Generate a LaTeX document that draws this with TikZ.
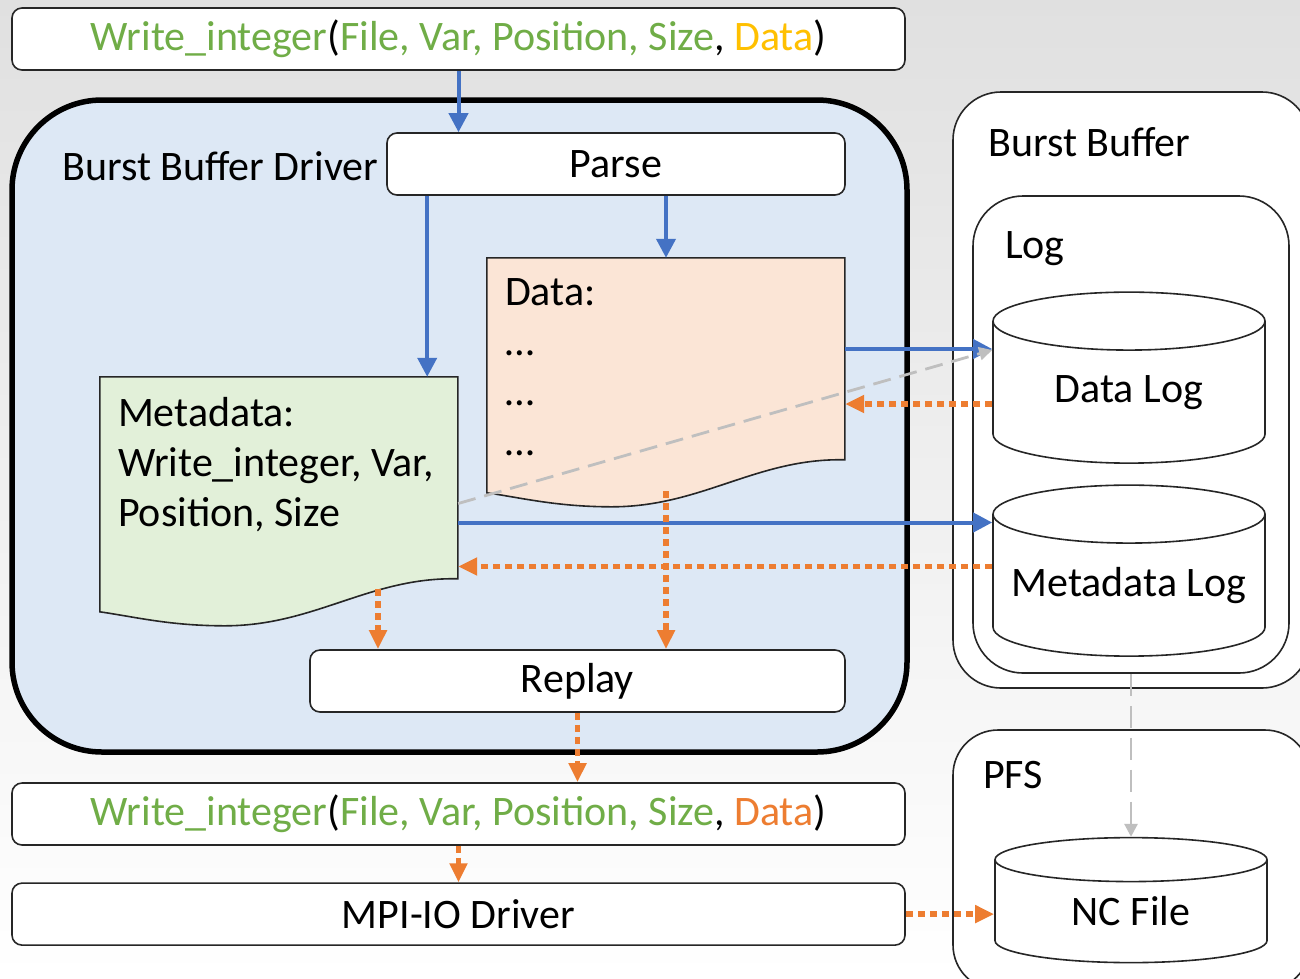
\documentclass[tikz,border=0pt]{standalone}
\usepackage{fontspec}
\setmainfont{Carlito}
\usepackage{xcolor}
\usepackage{tikz}
\usetikzlibrary{arrows.meta,positioning,shapes.geometric}

\definecolor{flowblue}{HTML}{4472C4}
\definecolor{floworange}{HTML}{ED7D31}
\definecolor{flowgreen}{HTML}{70AD47}
\definecolor{flowgold}{HTML}{FFC000}
\definecolor{flowgray}{HTML}{BFBFBF}
\definecolor{drvfill}{HTML}{DDE8F5}
\definecolor{datafill}{HTML}{FBE5D6}
\definecolor{metafill}{HTML}{E2F0D9}
\definecolor{edge}{HTML}{262626}

% wavy document outline drawn from the north west corner of a node
\newcommand{\wavedoc}[2]{%
  \filldraw[fill=#2, draw=edge, line width=1.6pt, shift={(#1.north west)}]
    (0,0) -- (358,0) -- (358,202)
    .. controls (270,200) and (215,249) .. (125,249)
    .. controls (70,249) and (35,240) .. (0,235) -- cycle;}

% the call text
\newcommand{\wcall}[1]{%
  \textcolor{flowgreen}{Write\_integer}(\textcolor{flowgreen}{File, Var, Position, Size}, \textcolor{#1}{Data})}

% fixed text box, so that every drum gets the same caps
\newcommand{\drumtext}[1]{\makebox[140pt]{#1}}

\begin{document}
\begin{tikzpicture}[
  x=1pt, y=-1pt,
  font=\fontsize{42pt}{50pt}\selectfont,
  bar/.style={rectangle, rounded corners=10pt, draw=edge, line width=1.6pt, fill=white, inner sep=0pt, minimum height=62pt},
  zone/.style={rectangle, draw=edge, line width=1.6pt, fill=white, inner sep=0pt},
  docarea/.style={rectangle, inner sep=0pt, minimum width=358pt, minimum height=202pt},
  drum/.style={cylinder, shape border rotate=90, aspect=0.414, draw=edge, line width=1.6pt, fill=white, inner sep=0pt, minimum width=272pt, minimum height=171pt},
  tag/.style={inner sep=0pt, anchor=base west},
  bluearr/.style={draw=flowblue, line width=4pt, -{Triangle[length=19pt,width=19pt]}},
  orarr/.style={draw=floworange, line width=5.5pt, dash pattern=on 7pt off 5pt, -{Triangle[length=19pt,width=17pt]}},
  grayarr/.style={draw=flowgray, line width=2.8pt, dash pattern=on 18pt off 9pt, -{Triangle[length=13pt,width=13pt]}}
]

\useasboundingbox (0,0) rectangle (1300,978);
\clip (0,0) rectangle (1300,978);
\shade[top color={rgb,255:red,224;green,224;blue,224}, bottom color=white] (0,0) rectangle (1300,978);

% Driver side
\node[bar, minimum width=893pt] (wtop) at (458.5,39) {\wcall{flowgold}};
\node[zone, rounded corners=90pt, line width=5.5pt, draw=black, fill=drvfill, minimum width=895pt, minimum height=652pt] (driver) at (459.5,426) {};
\node[tag] (drvlabel) at (62,180) {Burst Buffer Driver};
\node[bar, minimum width=458pt] (parse) at (616,164) {Parse};
\node[docarea] (data) at (666,359) {};
\node[docarea] (meta) at (279,478) {};
\wavedoc{data}{datafill}
\wavedoc{meta}{metafill}
\node[anchor=north west, align=left, inner sep=0pt] (datatext) at ([xshift=18pt,yshift=-21pt]data.north west) {Data:\\…\\…\\…};
\node[anchor=north west, align=left, inner sep=0pt] (metatext) at ([xshift=18pt,yshift=-20pt]meta.north west) {Metadata:\\Write\_integer, Var,\\Position, Size};
\node[bar, minimum width=535pt] (replay) at (577.5,681) {Replay};
\node[bar, minimum width=893pt] (wbot) at (458.5,814) {\wcall{floworange}};
\node[bar, minimum width=893pt, below=36.5pt of wbot] (mpi) {MPI-IO Driver};

% Storage side
\node[zone, rounded corners=48pt, minimum width=357pt, minimum height=596pt] (bb) at (1131.5,390) {};
\node[tag] (bblabel) at (988,156) {Burst Buffer};
\node[zone, rounded corners=50pt, minimum width=316pt, minimum height=477pt] (log) at (1131,434.5) {};
\node[tag] (loglabel) at (1005,258) {Log};
\node[drum] (dlog) at (1129,392.5) {\drumtext{Data Log}};
\node[drum] (mlog) at (1129,585.5) {\drumtext{Metadata Log}};
\node[zone, rounded corners=45pt, minimum width=357pt, minimum height=260pt] (pfs) at (1131.5,860) {};
\node[tag] (pfslabel) at (983,788) {PFS};
\node[drum, aspect=0.314, minimum height=125pt] (ncf) at (1131,911.5) {\drumtext{NC File}};

% Parse
\draw[bluearr] (wtop.south) -- (wtop.south |- parse.north);
\draw[bluearr] (data.north |- parse.south) -- (data.north);
\coordinate (ptap) at ([xshift=41pt]parse.south west);
\draw[bluearr] (ptap) -- (ptap |- meta.north);

% Logging
\coordinate (dout) at ([yshift=10pt]data.east);
\draw[bluearr] (dout) -- (dout -| dlog.west);
\coordinate (dback) at ([yshift=-45pt]data.east);
\draw[orarr] (dback -| dlog.west) -- (dback);
\coordinate (mout) at ([yshift=-44.5pt]meta.east);
\draw[bluearr] (mout) -- (mout -| mlog.west);
\coordinate (mback) at ([yshift=-88.5pt]meta.east);
\draw[orarr] (mback -| mlog.west) -- (mback);
\draw[grayarr] ([yshift=-25.5pt]meta.east) -- ([yshift=42.5pt]dlog.west);

% Replay
\coordinate (mtap) at ([xshift=99pt,yshift=-10pt]meta.south);
\draw[orarr] (mtap) -- (mtap |- replay.north);
\coordinate (dtap) at ([yshift=-31pt]data.south);
\draw[orarr] (dtap) -- (dtap |- replay.north);
\draw[orarr] (replay.south) -- (replay.south |- wbot.north);
\draw[orarr] (wbot.south) -- (mpi.north);
\draw[orarr] (mpi.east) -- (mpi.east -| ncf.west);
\draw[grayarr, dash pattern=on 22pt off 10pt] (log.south) -- (ncf.north);

\end{tikzpicture}
\end{document}
